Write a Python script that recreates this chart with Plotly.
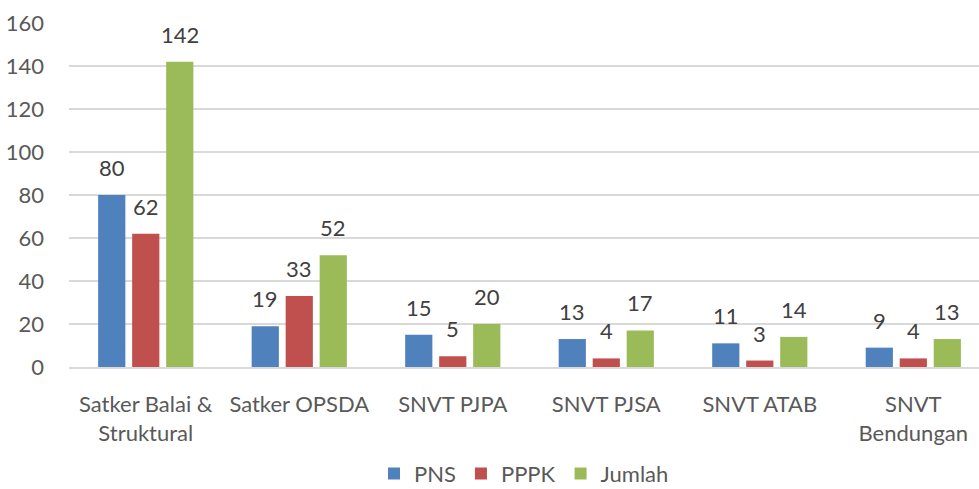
import plotly.graph_objects as go

categories = ["Satker Balai &<br>Struktural", "Satker OPSDA", "SNVT PJPA", "SNVT PJSA", "SNVT ATAB", "SNVT<br>Bendungan"]
pns = [80, 19, 15, 13, 11, 9]
pppk = [62, 33, 5, 4, 3, 4]
jumlah = [142, 52, 20, 17, 14, 13]
y_ticks = [0, 20, 40, 60, 80, 100, 120, 140, 160]

series = [("PNS", pns, "#4F81BD"), ("PPPK", pppk, "#C0504D"), ("Jumlah", jumlah, "#9BBB59")]
FONT = "Lato, Open Sans, sans-serif"
TXT = "#595959"

fig = go.Figure()
for name, vals, col in series:
    fig.add_trace(go.Bar(x=categories, y=vals, name=name, marker=dict(color=col, line=dict(width=0))))

annotations = []
for i, (name, vals, col) in enumerate(series):
    for c, v in zip(categories, vals):
        annotations.append(dict(x=c, y=v, xref="x", yref="y", text=str(v), showarrow=False,
                                xshift=(i - 1) * 34, yanchor="bottom", yshift=12,
                                font=dict(family=FONT, size=22, color="#404040")))

fig.update_layout(
    width=979, height=489,
    margin=dict(l=69, r=0, t=23, b=122, autoexpand=False),
    paper_bgcolor="white", plot_bgcolor="white",
    barmode="group", bargap=0.3355, bargroupgap=0.2,
    font=dict(family=FONT, size=22, color=TXT),
    annotations=annotations,
    legend=dict(orientation="h", x=0.5, xanchor="center", y=-0.3715, yanchor="bottom",
                bgcolor="rgba(0,0,0,0)",
                font=dict(family=FONT, size=22, color=TXT), itemwidth=30),
    showlegend=True,
)
fig.update_yaxes(range=[0, 160], tickvals=y_ticks, showgrid=True, gridcolor="#D9D9D9", gridwidth=1.5,
                 zeroline=False, showline=False, ticklabelstandoff=24, automargin=False,
                 tickfont=dict(family=FONT, size=22, color=TXT))
fig.update_xaxes(range=[-0.5, 5.428], showline=True, linecolor="#D9D9D9", linewidth=1.5, ticks="",
                 ticklabelstandoff=17, automargin=False, tickfont=dict(family=FONT, size=22, color=TXT))

fig.write_html("out.html", config={"displayModeBar": False},
               post_script="document.body.style.margin='0';document.body.style.overflow='hidden';")
